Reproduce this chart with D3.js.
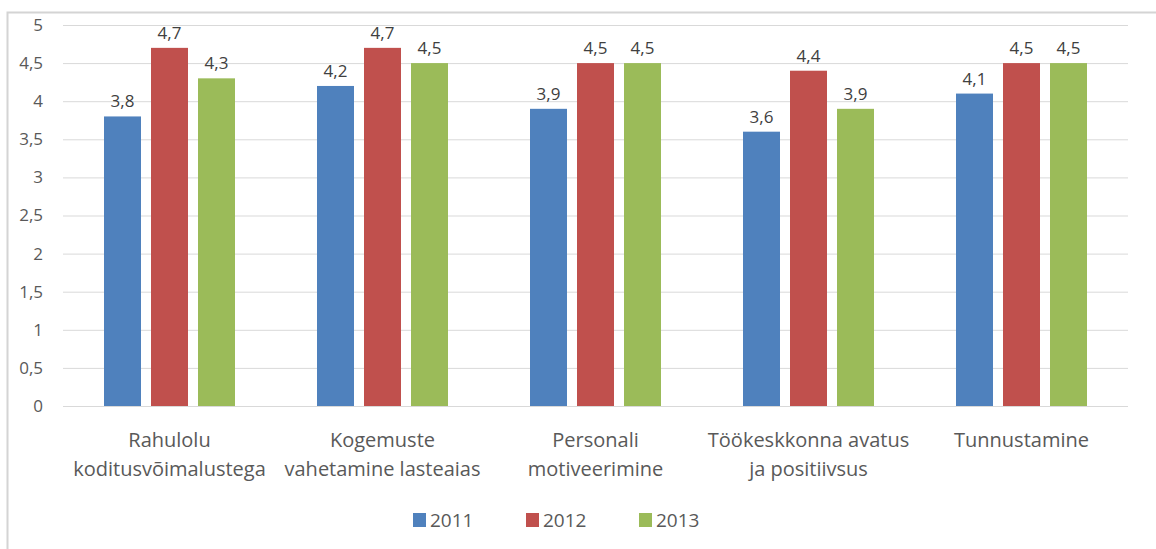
<!DOCTYPE html>
<html>
  <head>
    <meta charset="utf-8">
    <title>Grouped bars</title>
    <script src="https://d3js.org/d3.v7.min.js"></script>
    <style>
      body { margin: 0; background: #fff; }
      svg text { font-family: "Open Sans", sans-serif; fill: #595959; }
      .grid line { stroke: #d9d9d9; }
      .grid path { display: none; }
    </style>
  </head>
  <body>
    <svg width="1156" height="549"></svg>
    <script>
      var categories = [
        ["Rahulolu", "koditusvõimalustega"],
        ["Kogemuste", "vahetamine lasteaias"],
        ["Personali", "motiveerimine"],
        ["Töökeskkonna avatus", "ja positiivsus"],
        ["Tunnustamine"]
      ];
      var seriesNames = ["2011", "2012", "2013"];
      var values2011 = [3.8, 4.2, 3.9, 3.6, 4.1];
      var values2012 = [4.7, 4.7, 4.5, 4.4, 4.5];
      var values2013 = [4.3, 4.5, 4.5, 3.9, 4.5];
      var yTicks = [0, 0.5, 1, 1.5, 2, 2.5, 3, 3.5, 4, 4.5, 5];
      var colors = ["#4f81bd", "#c0504d", "#9bbb59"];

      var series = [values2011, values2012, values2013];
      var comma = function(v) { return String(v).replace(".", ","); };

      var svg = d3.select("svg");

      // outer frame (only left and top visible)
      svg.append("path")
          .attr("d", "M7.5,549V12.5H1156")
          .attr("fill", "none")
          .attr("stroke", "#d4d4d4")
          .attr("stroke-width", 2);

      var plotLeft = 63, plotRight = 1128, plotTop = 25, plotBottom = 406;

      var x0 = d3.scaleBand()
          .domain(d3.range(categories.length))
          .range([plotLeft, plotRight]);

      var x1 = d3.scaleBand()
          .domain(seriesNames)
          .range([41, x0.bandwidth() - 41])
          .paddingInner(0.213);

      var y = d3.scaleLinear()
          .domain([0, 5])
          .range([plotBottom, plotTop]);

      svg.append("g")
          .attr("class", "grid")
          .attr("transform", "translate(" + plotLeft + ",0)")
          .call(d3.axisLeft(y).tickValues(yTicks).tickSize(-(plotRight - plotLeft)).tickFormat(""));

      svg.selectAll(".ylab")
          .data(yTicks)
          .enter().append("text")
          .attr("class", "ylab")
          .attr("x", 43)
          .attr("y", function(d) { return y(d); })
          .attr("dy", "0.35em")
          .attr("text-anchor", "end")
          .style("font-size", "17px")
          .text(comma);

      var groups = svg.selectAll(".group")
          .data(categories)
          .enter().append("g")
          .attr("class", "group")
          .attr("transform", function(d, i) { return "translate(" + x0(i) + ",0)"; });

      groups.each(function(c, i) {
        var g = d3.select(this);
        seriesNames.forEach(function(name, s) {
          var v = series[s][i];
          g.append("rect")
              .attr("x", x1(name))
              .attr("width", x1.bandwidth())
              .attr("y", y(v))
              .attr("height", plotBottom - y(v))
              .attr("fill", colors[s]);
          g.append("text")
              .attr("x", x1(name) + x1.bandwidth() / 2)
              .attr("y", y(v) - 9)
              .attr("text-anchor", "middle")
              .style("font-size", "17px")
              .style("fill", "#404040")
              .text(comma(v));
        });
        var t = g.append("text")
            .attr("text-anchor", "middle")
            .style("font-size", "20px");
        c.forEach(function(line, k) {
          t.append("tspan")
              .attr("x", x0.bandwidth() / 2)
              .attr("y", 447 + k * 29)
              .text(line);
        });
      });

      // legend
      var legend = svg.selectAll(".legend")
          .data(seriesNames)
          .enter().append("g")
          .attr("class", "legend")
          .attr("transform", function(d, i) { return "translate(" + (413 + i * 113) + ",513)"; });

      legend.append("rect")
          .attr("width", 13)
          .attr("height", 14)
          .attr("fill", function(d, i) { return colors[i]; });

      legend.append("text")
          .attr("x", 17)
          .attr("y", 14)
          .style("font-size", "19px")
          .text(function(d) { return d; });
    </script>
  </body>
</html>
